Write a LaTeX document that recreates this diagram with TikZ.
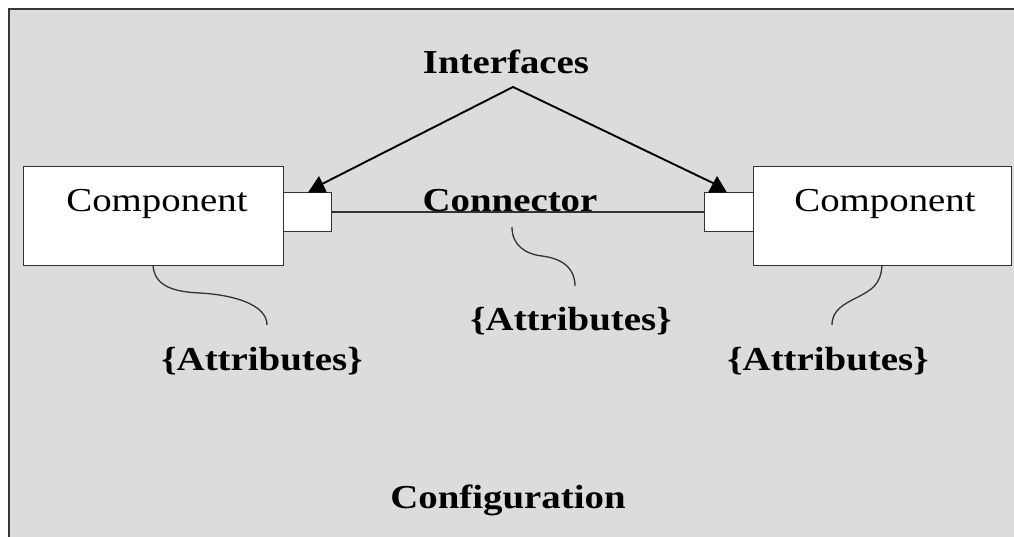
\documentclass[tikz,border=0pt]{standalone}
\usepackage{fontspec}
\setmainfont{Liberation Serif}[FakeStretch=1.16]
\begin{document}
\begin{tikzpicture}[x=1pt,y=-1pt,
  frameline/.style={draw=black!78, line width=1.4pt},
  compbox/.style={draw=black!80, fill=white, line width=1.3pt, inner sep=0pt, anchor=north west},
  portbox/.style={draw=black!80, fill=white, line width=1.2pt, inner sep=0pt, anchor=north west},
  wire/.style={draw=black!80, line width=1.2pt},
  pointer/.style={draw=black, line width=1.9pt},
  tip/.style={fill=black, draw=none},
  squiggle/.style={draw=black!80, line width=1.3pt},
  plain/.style={font=\fontsize{33.5}{40}\selectfont, anchor=base, inner sep=0pt},
  heavy/.style={font=\fontsize{33.5}{40}\selectfont\bfseries, anchor=base, inner sep=0pt}]
\useasboundingbox (0,0) rectangle (1014,537);
\clip (0,0) rectangle (1014,537);
% configuration frame
\path[frameline, fill={rgb,255:red,220;green,220;blue,220}] (9,9) rectangle (1030,560);

% components and their ports
\node[compbox, minimum width=260pt, minimum height=99pt] (lcomp) at (23,166) {};
\node[compbox, minimum width=258pt, minimum height=99pt] (rcomp) at (753,166) {};
\node[portbox, minimum width=48pt, minimum height=39pt] (lport) at (283,192) {};
\node[portbox, minimum width=49pt, minimum height=39pt] (rport) at (704,192) {};
\node[plain] (lcname) at (157,212) {Component};
\node[plain] (rcname) at (885,212) {Component};

% connector between the two ports
\draw[wire] (lport.east) -- (rport.west);
\node[heavy] (conn) at (510,212) {Connector};

% interfaces label with pointers to both ports
\node[heavy] (iface) at (506,74) {Interfaces};
\coordinate (apex) at (513,87);
\coordinate (lend) at (322,184);
\coordinate (rend) at (715,184);
\draw[pointer] (lend) -- (apex) -- (rend);
\fill[tip] (319,176) -- (308,192.6) -- (327,192.6) -- cycle;
\fill[tip] (717,176) -- (708,192.6) -- (727,192.6) -- cycle;

% attribute annotations
\node[heavy] (lattr) at (262,370) {\{Attributes\}};
\node[heavy] (mattr) at (571,330) {\{Attributes\}};
\node[heavy] (rattr) at (828,370) {\{Attributes\}};
\coordinate (lfoot) at (153,265);
\coordinate (lhead) at (267,325);
\coordinate (mfoot) at (512,227);
\coordinate (mhead) at (575,286);
\coordinate (rfoot) at (882,265);
\coordinate (rhead) at (832,325);
\draw[squiggle] (lfoot) .. controls (154,285) and (172,292) .. (200,293)
  .. controls (235,295) and (267,305) .. (lhead);
\draw[squiggle] (mfoot) .. controls (512,245) and (525,254) .. (542,256)
  .. controls (565,259) and (575,270) .. (mhead);
\draw[squiggle] (rfoot) .. controls (881,285) and (871,290) .. (858,297)
  .. controls (844,304) and (832,310) .. (rhead);

% frame title
\node[heavy] (config) at (508,508) {Configuration};
\end{tikzpicture}
\end{document}
